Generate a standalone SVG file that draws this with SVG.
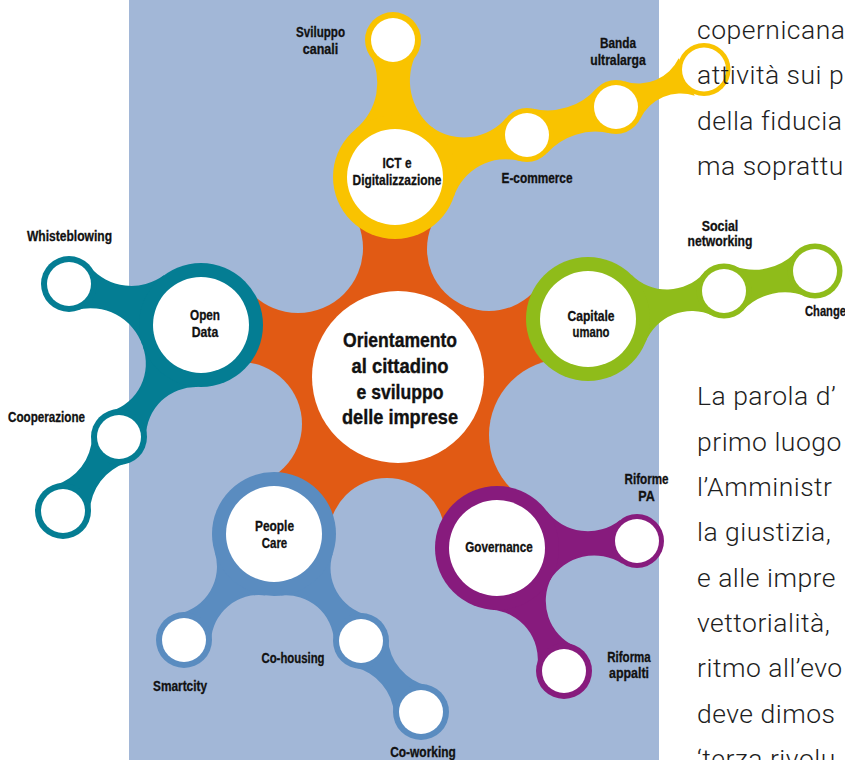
<svg xmlns="http://www.w3.org/2000/svg" width="845" height="760" viewBox="0 0 845 760">
<style>
.y{fill:#F9C300}.g{fill:#8FBC1A}.t{fill:#047D93}.b{fill:#5A8CC0}.p{fill:#871B7D}.w{fill:#fff}
.lbl{font-family:"Liberation Sans",Arial,sans-serif;font-weight:bold;font-size:14.5px;fill:#111;stroke:#111;stroke-width:0.3px;text-anchor:middle}
.ctr{font-size:21px;stroke-width:0.4px}
.body{font-family:Roboto,"Liberation Sans",Arial,sans-serif;font-weight:300;font-size:26.5px;letter-spacing:0.5px;fill:#1e1e1e}
</style>
<defs>
<mask id="om" maskUnits="userSpaceOnUse" x="0" y="0" width="845" height="760">
<rect width="845" height="760" fill="#fff"/>
<circle cx="298" cy="248" r="65" fill="#000"/>
<circle cx="489" cy="249" r="62" fill="#000"/>
<circle cx="565" cy="435" r="76" fill="#000"/>
<circle cx="387" cy="536" r="58" fill="#000"/>
<circle cx="240" cy="424" r="62" fill="#000"/>
</mask>
</defs>
<rect x="129" y="0" width="530" height="760" fill="#A2B7D7"/>
<g id="connectors">
<polygon fill="#E15A14" mask="url(#om)" points="395,177 489,249 588,319 565,435 497,548 387,536 274,534 240,424 201,325 298,248"/>
<path class="y" d="M433.1,128.1 A60,60 0 0 1 416.9,52.6 L369.5,53.3 A60,60 0 0 1 355.5,129.2 Z"/>
<path class="y" d="M453.8,196.7 A55,55 0 0 1 520.1,161.1 L506.3,117.7 A55,55 0 0 1 431.6,126.9 Z"/>
<path class="y" d="M547.0,153.1 A65,65 0 0 1 609.9,133.3 L596.0,88.9 A65,65 0 0 1 533.1,108.7 Z"/>
<path class="y" d="M640.3,118.8 A45,45 0 0 1 694.7,95.7 L678.7,58.2 A45,45 0 0 1 624.3,81.3 Z"/>
<path class="g" d="M645.5,342.2 A50,50 0 0 1 712.7,315.5 L704.0,272.9 A50,50 0 0 1 631.6,274.9 Z"/>
<path class="g" d="M743.4,309.8 A58,58 0 0 1 805.5,296.1 L795.9,252.2 A58,58 0 0 1 733.8,265.9 Z"/>
<path class="t" d="M164.2,275.1 A55,55 0 0 1 89.6,266.5 L76.0,310.1 A55,55 0 0 1 142.4,345.2 Z"/>
<path class="t" d="M142.8,346.4 A50,50 0 0 1 110.9,411.3 L146.0,437.0 A50,50 0 0 1 198.2,387.0 Z"/>
<path class="t" d="M92.0,436.5 A52,52 0 0 1 55.1,485.2 L90.0,511.5 A52,52 0 0 1 126.9,462.8 Z"/>
<path class="b" d="M214.8,552.3 A48,48 0 0 1 178.6,613.6 L211.0,641.1 A48,48 0 0 1 265.5,595.4 Z"/>
<path class="b" d="M280.8,595.6 A48,48 0 0 1 334.0,641.8 L367.3,614.8 A48,48 0 0 1 332.9,553.2 Z"/>
<path class="b" d="M354.6,667.2 A52,52 0 0 1 394.1,714.0 L427.4,685.8 A52,52 0 0 1 387.9,639.0 Z"/>
<path class="p" d="M549.9,580.3 A52,52 0 0 1 622.4,563.7 L620.2,519.9 A52,52 0 0 1 546.4,510.6 Z"/>
<path class="p" d="M491.9,609.8 A50,50 0 0 1 537.3,667.0 L575.1,646.4 A50,50 0 0 1 551.7,577.3 Z"/>
</g>
<g id="node-center"><circle class="w" cx="398" cy="377" r="86"/>
<text class="lbl ctr" x="400" y="347" textLength="114" lengthAdjust="spacingAndGlyphs">Orientamento</text>
<text class="lbl ctr" x="400" y="373" textLength="97" lengthAdjust="spacingAndGlyphs">al cittadino</text>
<text class="lbl ctr" x="400" y="398.5" textLength="87" lengthAdjust="spacingAndGlyphs">e sviluppo</text>
<text class="lbl ctr" x="400" y="424" textLength="116" lengthAdjust="spacingAndGlyphs">delle imprese</text></g>
<g id="node-ict"><circle class="y" cx="395" cy="177" r="62"/><circle class="w" cx="395" cy="177" r="48"/>
<text class="lbl" x="397" y="168" textLength="29" lengthAdjust="spacingAndGlyphs">ICT e</text><text class="lbl" x="397" y="185" textLength="89" lengthAdjust="spacingAndGlyphs">Digitalizzazione</text></g>
<g id="node-sviluppo"><circle class="y" cx="393" cy="40" r="28"/><circle class="w" cx="393" cy="40" r="22"/>
<text class="lbl" x="320.5" y="37" textLength="49" lengthAdjust="spacingAndGlyphs">Sviluppo</text><text class="lbl" x="320.5" y="54" textLength="35.5" lengthAdjust="spacingAndGlyphs">canali</text></g>
<g id="node-ecommerce"><circle class="y" cx="527" cy="135" r="27"/><circle class="w" cx="527" cy="135" r="22"/>
<text class="lbl" x="537" y="183" textLength="71" lengthAdjust="spacingAndGlyphs">E-commerce</text></g>
<g id="node-banda"><circle class="y" cx="616" cy="107" r="27"/><circle class="w" cx="616" cy="107" r="22"/>
<text class="lbl" x="618" y="48" textLength="36" lengthAdjust="spacingAndGlyphs">Banda</text><text class="lbl" x="618" y="65" textLength="55.5" lengthAdjust="spacingAndGlyphs">ultralarga</text></g>
<g id="node-yellow4"><circle class="y" cx="704" cy="69.5" r="26.5"/><circle class="w" cx="704" cy="69.5" r="22"/></g>
<g id="node-capitale"><circle class="g" cx="588" cy="319" r="62"/><circle class="w" cx="588" cy="319" r="48"/>
<text class="lbl" x="591" y="321" textLength="47" lengthAdjust="spacingAndGlyphs">Capitale</text><text class="lbl" x="591" y="337" textLength="37" lengthAdjust="spacingAndGlyphs">umano</text></g>
<g id="node-social"><circle class="g" cx="724" cy="291" r="27.5"/><circle class="w" cx="724" cy="291" r="22"/>
<text class="lbl" x="720" y="231" textLength="36.5" lengthAdjust="spacingAndGlyphs">Social</text><text class="lbl" x="720" y="246" textLength="65" lengthAdjust="spacingAndGlyphs">networking</text></g>
<g id="node-change"><circle class="g" cx="815" cy="271" r="27.5"/><circle class="w" cx="815" cy="271" r="22"/>
<text class="lbl" x="805" y="316" style="text-anchor:start" textLength="41" lengthAdjust="spacingAndGlyphs">Change</text></g>
<g id="node-opendata"><circle class="t" cx="201" cy="325" r="62"/><circle class="w" cx="201" cy="325" r="48"/>
<text class="lbl" x="205" y="320" textLength="30" lengthAdjust="spacingAndGlyphs">Open</text><text class="lbl" x="205" y="337" textLength="26.5" lengthAdjust="spacingAndGlyphs">Data</text></g>
<g id="node-whist"><circle class="t" cx="69" cy="284" r="28"/><circle class="w" cx="69" cy="284" r="22"/>
<text class="lbl" x="69.5" y="241" textLength="85" lengthAdjust="spacingAndGlyphs">Whisteblowing</text></g>
<g id="node-coop"><circle class="t" cx="119" cy="437" r="28"/><circle class="w" cx="119" cy="437" r="22"/>
<text class="lbl" x="46.5" y="422" textLength="77" lengthAdjust="spacingAndGlyphs">Cooperazione</text></g>
<g id="node-teal3"><circle class="t" cx="63" cy="511" r="28"/><circle class="w" cx="63" cy="511" r="22"/></g>
<g id="node-people"><circle class="b" cx="274" cy="534" r="62"/><circle class="w" cx="274" cy="534" r="48"/>
<text class="lbl" x="274.5" y="531" textLength="39" lengthAdjust="spacingAndGlyphs">People</text><text class="lbl" x="274.5" y="548" textLength="25.5" lengthAdjust="spacingAndGlyphs">Care</text></g>
<g id="node-smartcity"><circle class="b" cx="184" cy="640" r="28"/><circle class="w" cx="184" cy="640" r="22"/>
<text class="lbl" x="180" y="691" textLength="54" lengthAdjust="spacingAndGlyphs">Smartcity</text></g>
<g id="node-cohousing"><circle class="b" cx="361" cy="641" r="28"/><circle class="w" cx="361" cy="641" r="22"/>
<text class="lbl" x="293" y="663" textLength="63" lengthAdjust="spacingAndGlyphs">Co-housing</text></g>
<g id="node-coworking"><circle class="b" cx="421" cy="712" r="28"/><circle class="w" cx="421" cy="712" r="22"/>
<text class="lbl" x="423" y="757" textLength="65.5" lengthAdjust="spacingAndGlyphs">Co-working</text></g>
<g id="node-governance"><circle class="p" cx="497" cy="548" r="62"/><circle class="w" cx="497" cy="548" r="48"/>
<text class="lbl" x="499" y="552" textLength="67.5" lengthAdjust="spacingAndGlyphs">Governance</text></g>
<g id="node-riformepa"><circle class="p" cx="637" cy="541" r="27"/><circle class="w" cx="637" cy="541" r="22"/>
<text class="lbl" x="646.5" y="484" textLength="44" lengthAdjust="spacingAndGlyphs">Riforme</text><text class="lbl" x="646.5" y="501" textLength="16.5" lengthAdjust="spacingAndGlyphs">PA</text></g>
<g id="node-appalti"><circle class="p" cx="564" cy="671" r="28"/><circle class="w" cx="564" cy="671" r="22"/>
<text class="lbl" x="629" y="662" textLength="43.5" lengthAdjust="spacingAndGlyphs">Riforma</text><text class="lbl" x="629" y="678" textLength="40" lengthAdjust="spacingAndGlyphs">appalti</text></g>
<g id="body-text">
<text class="body" x="697" y="38.5">copernicana</text>
<text class="body" x="697" y="84">attività sui p</text>
<text class="body" x="697" y="129.5">della fiducia</text>
<text class="body" x="697" y="175">ma soprattu</text>
<text class="body" x="697" y="405">La parola d’</text>
<text class="body" x="697" y="450.5">primo luogo</text>
<text class="body" x="697" y="496">l’Amministr</text>
<text class="body" x="697" y="541">la giustizia,</text>
<text class="body" x="697" y="586.5">e alle impre</text>
<text class="body" x="697" y="632">vettorialità,</text>
<text class="body" x="697" y="677">ritmo all’evo</text>
<text class="body" x="697" y="722.5">deve dimos</text>
<text class="body" x="697" y="768">‘terza rivolu</text>
</g>
</svg>
